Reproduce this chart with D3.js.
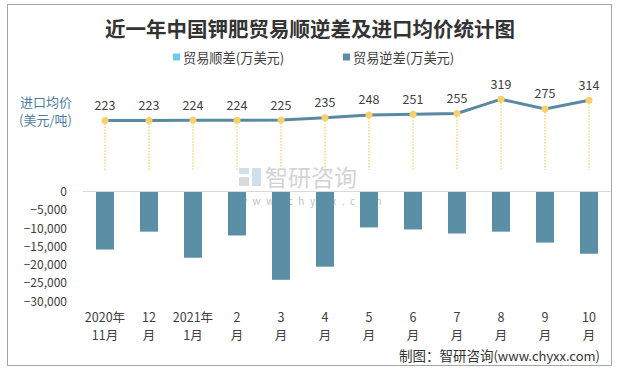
<!DOCTYPE html>
<html>
<head>
<meta charset="utf-8">
<script src="https://cdn.jsdelivr.net/npm/d3@7"></script>
<style>
  body { margin: 0; background: #fff; }
  svg text { font-family: "Noto Sans CJK SC", "DejaVu Sans", sans-serif; }
</style>
</head>
<body>
<div id="chart-container"></div>
<script>
// chart data
var months = [["2020年", "11月"], ["12", "月"], ["2021年", "1月"], ["2", "月"], ["3", "月"], ["4", "月"],
              ["5", "月"], ["6", "月"], ["7", "月"], ["8", "月"], ["9", "月"], ["10", "月"]];
var tradeDeficit = [-15900, -11000, -18150, -12050, -24200, -20600, -9850, -10400, -11500, -11000, -14000, -17050];
var importPrice = [223, 223, 224, 224, 225, 235, 248, 251, 255, 319, 275, 314];
var barTicks = [0, -5000, -10000, -15000, -20000, -25000, -30000];

var width = 619, height = 371;

var svg = d3.select("#chart-container").append("svg")
  .attr("width", width)
  .attr("height", height);

// outer frame
svg.append("rect")
  .attr("x", 7.5).attr("y", 4.5)
  .attr("width", 604).attr("height", 361)
  .attr("fill", "none")
  .attr("stroke", "#a6a6a6");

// title
svg.append("text")
  .attr("x", 310).attr("y", 28)
  .attr("text-anchor", "middle")
  .attr("dominant-baseline", "central")
  .attr("font-size", 20.5)
  .attr("font-weight", "bold")
  .attr("fill", "#333")
  .text("近一年中国钾肥贸易顺逆差及进口均价统计图");

// legend
var legend = [
  { name: "贸易顺差(万美元)", color: "#6dcbf0", x: 173 },
  { name: "贸易逆差(万美元)", color: "#5a8fa6", x: 343 }
];
var lg = svg.selectAll(".legend").data(legend).enter().append("g")
  .attr("class", "legend")
  .attr("transform", function(d) { return "translate(" + d.x + ",57)"; });
lg.append("rect").attr("x", 0).attr("y", -3.5).attr("width", 7).attr("height", 7)
  .attr("fill", function(d) { return d.color; });
lg.append("text").attr("x", 10).attr("y", 0)
  .attr("dominant-baseline", "central")
  .attr("font-size", 13.2).attr("fill", "#404040")
  .text(function(d) { return d.name; });

// left title for price
svg.append("text").attr("x", 20).attr("y", 101)
  .attr("dominant-baseline", "central").attr("font-size", 13).attr("fill", "#4a7fa3")
  .text("进口均价");
svg.append("text").attr("x", 19).attr("y", 119)
  .attr("dominant-baseline", "central").attr("font-size", 13).attr("fill", "#4a7fa3")
  .text("(美元/吨)");

// watermark
var wm = svg.append("g").attr("opacity", 0.9);
wm.append("rect").attr("x", 239).attr("y", 168).attr("width", 10).attr("height", 6).attr("fill", "#c9dcec");
wm.append("rect").attr("x", 239).attr("y", 177).attr("width", 10).attr("height", 9).attr("fill", "#d6d6d6");
wm.append("rect").attr("x", 252).attr("y", 168).attr("width", 9).attr("height", 18).attr("fill", "#c9dcec");
wm.append("text").attr("x", 265).attr("y", 176)
  .attr("dominant-baseline", "central").attr("font-size", 23).attr("fill", "#cfcfcf")
  .text("智研咨询");
wm.append("text").attr("x", 239).attr("y", 200)
  .attr("dominant-baseline", "central").attr("font-size", 10).attr("fill", "#bdbdbd")
  .attr("letter-spacing", "5.6px")
  .text("www.chyxx.com");

// scales
var x = d3.scaleBand()
  .domain(months.map(function(d, i) { return i; }))
  .range([83, 611])
  .paddingInner(0.59)
  .paddingOuter(0.295);

var yBar = d3.scaleLinear().domain([-30000, 0]).range([301, 191.5]);
var yPrice = d3.scaleLinear().domain([0, 350]).range([170, 92.3]);

// bar axis
var yAxis = d3.axisLeft(yBar).tickValues(barTicks).tickSize(0).tickPadding(0)
  .tickFormat(d3.format(","));
var ya = svg.append("g").attr("class", "y axis").attr("transform", "translate(67,0)").call(yAxis);
ya.select(".domain").remove();
ya.selectAll("text").attr("font-size", 12).attr("fill", "#404040")
  .attr("font-family", "'DejaVu Sans', sans-serif").attr("dy", "0.35em");

// bars
svg.selectAll(".bar").data(tradeDeficit).enter().append("rect")
  .attr("class", "bar")
  .attr("x", function(d, i) { return x(i); })
  .attr("width", x.bandwidth())
  .attr("y", yBar(0))
  .attr("height", function(d) { return yBar(d) - yBar(0); })
  .attr("fill", "#5a8fa6");

// zero line
svg.append("line")
  .attr("x1", 83).attr("x2", 611)
  .attr("y1", yBar(0)).attr("y2", yBar(0))
  .attr("stroke", "#d9d9d9").attr("stroke-width", 1.2);

// x labels
var xl = svg.selectAll(".xlabel").data(months).enter().append("text")
  .attr("class", "xlabel")
  .attr("text-anchor", "middle")
  .attr("font-size", 12.5).attr("fill", "#404040");
xl.append("tspan")
  .attr("x", function(d, i) { return x(i) + x.bandwidth() / 2; })
  .attr("y", 322)
  .text(function(d) { return d[0]; });
xl.append("tspan")
  .attr("x", function(d, i) { return x(i) + x.bandwidth() / 2; })
  .attr("y", 340)
  .text(function(d) { return d[1]; });

// price: drop lines
var cx = function(d, i) { return x(i) + x.bandwidth() / 2; };
svg.selectAll(".drop").data(importPrice).enter().append("line")
  .attr("class", "drop")
  .attr("x1", cx).attr("x2", cx)
  .attr("y1", function(d) { return yPrice(d); })
  .attr("y2", yPrice(0))
  .attr("stroke", "#f7d57a").attr("stroke-width", 1.5)
  .attr("stroke-dasharray", "1.5,1.5");

// price line
var line = d3.line()
  .x(function(d, i) { return cx(d, i); })
  .y(function(d) { return yPrice(d); });
svg.append("path").datum(importPrice)
  .attr("d", line)
  .attr("fill", "none")
  .attr("stroke", "#5a8aa3")
  .attr("stroke-width", 3);

// markers
svg.selectAll(".dot").data(importPrice).enter().append("circle")
  .attr("class", "dot")
  .attr("cx", cx)
  .attr("cy", function(d) { return yPrice(d); })
  .attr("r", 3.5)
  .attr("fill", "#f8d06c");

// value labels
svg.selectAll(".label").data(importPrice).enter().append("text")
  .attr("class", "label")
  .attr("x", cx)
  .attr("y", function(d) { return yPrice(d) - 16; })
  .attr("text-anchor", "middle")
  .attr("dominant-baseline", "central")
  .attr("font-size", 12.5).attr("fill", "#404040")
  .attr("font-family", "'DejaVu Sans', sans-serif")
  .text(function(d) { return d; });

// source
var src = svg.append("text").attr("x", 600).attr("y", 355)
  .attr("text-anchor", "end").attr("dominant-baseline", "central")
  .attr("font-size", 13.5).attr("fill", "#333");
src.append("tspan").text("制图：智研咨询");
src.append("tspan").attr("font-size", 13).text("(www.chyxx.com)");
</script>
</body>
</html>
